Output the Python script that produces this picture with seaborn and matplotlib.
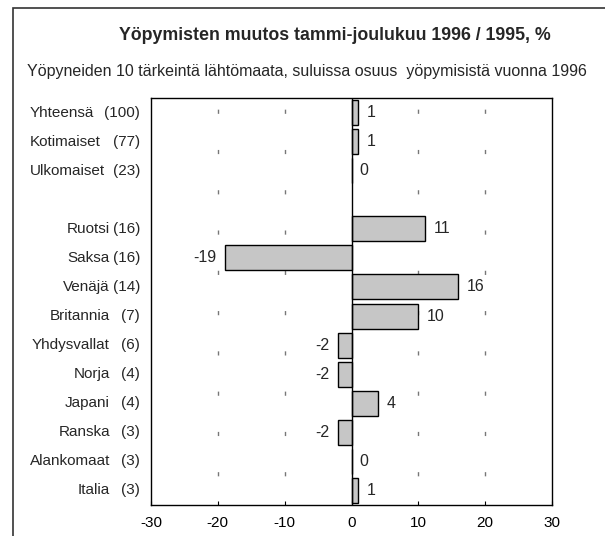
import numpy as np
import pandas as pd
import seaborn as sns
import matplotlib.pyplot as plt
import matplotlib.transforms as mtransforms
from matplotlib.patches import Rectangle

# Data
names = ["Yhteensä", "Kotimaiset", "Ulkomaiset",
         "Ruotsi", "Saksa", "Venäjä", "Britannia", "Yhdysvallat",
         "Norja", "Japani", "Ranska", "Alankomaat", "Italia"]
shares = [100, 77, 23, 16, 16, 14, 7, 6, 4, 4, 3, 3, 3]
changes = [1, 1, 0, 11, -19, 16, 10, -2, -2, 4, -2, 0, 1]
xticks = [-30, -20, -10, 0, 10, 20, 30]

title = "Yöpymisten muutos tammi-joulukuu 1996 / 1995, %"
subtitle = "Yöpyneiden 10 tärkeintä lähtömaata, suluissa osuus  yöpymisistä vuonna 1996"

# blank slot between the totals and the countries
order = names[:3] + [""] + names[3:]

df = pd.DataFrame({"maa": names, "muutos": changes})

sns.set_style("white")
plt.rcParams["font.family"] = ["Liberation Sans", "DejaVu Sans"]

fig = plt.figure(figsize=(6.05, 5.36), dpi=100)
ax = fig.add_axes([151 / 605, 1 - 505 / 536, 401 / 605, 407 / 536])

sns.barplot(data=df, x="muutos", y="maa", order=order, orient="h",
            color="#c6c6c6", edgecolor="black", linewidth=1.0,
            width=0.86, saturation=1, errorbar=None, ax=ax)

ax.set_xlim(-30, 30)
ax.set_ylim(len(order) - 0.5, -0.5)
ax.set_xlabel("")
ax.set_ylabel("")
ax.set_yticks([])
ax.set_xticks(xticks)
ax.set_xticklabels([str(t) for t in xticks], fontsize=11)
ax.tick_params(axis="x", direction="in", length=3, width=0.8, pad=8,
               bottom=True, colors="black")
for s in ax.spines.values():
    s.set_color("black")
    s.set_linewidth(1.0)

# dashed guides and zero line
for t in xticks[1:-1]:
    if t == 0:
        ax.axvline(0, color="black", lw=1.0, zorder=3)
    else:
        ax.axvline(t, color="#777777", lw=1.0, ls=(8, (3, 26)), zorder=0)

# value labels
for cont in ax.containers:
    ax.bar_label(cont, labels=[str(v) for v in changes], padding=6, fontsize=11.5)

# category labels in two columns
tr = mtransforms.blended_transform_factory(fig.transFigure, ax.transData)
for i, (n, s) in enumerate(zip(names, shares)):
    y = order.index(n)
    if i < 3:
        ax.text(30 / 605, y, n, transform=tr, ha="left", va="center", fontsize=11)
    else:
        ax.text(110 / 605, y, n, transform=tr, ha="right", va="center", fontsize=11)
    ax.text(140 / 605, y, f"({s})", transform=tr, ha="right", va="center", fontsize=11)

fig.text(335 / 605, 1 - 35 / 536, title, ha="center", va="center",
         fontsize=12.8, fontweight="bold")
fig.text(307 / 605, 1 - 72 / 536, subtitle, ha="center", va="center", fontsize=11.5)

# outer frame, cut off at the right and bottom
fig.patches.append(Rectangle((13 / 605, -0.05), 1.1, 1.05 - 8 / 536,
                             transform=fig.transFigure, fill=False,
                             edgecolor="#333333", linewidth=1.2))

fig.savefig("out.png", dpi=100)
